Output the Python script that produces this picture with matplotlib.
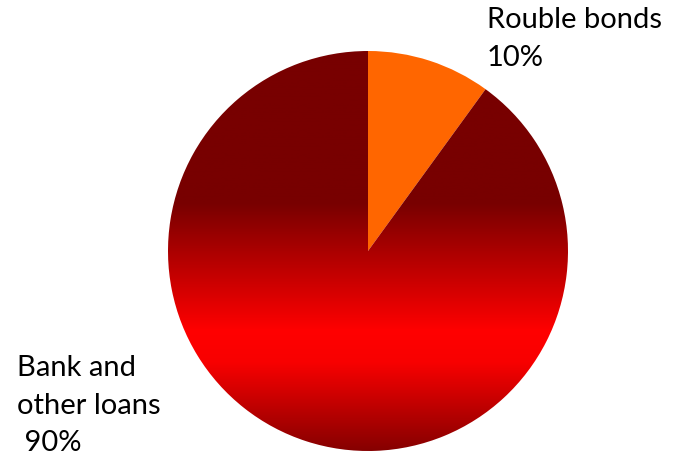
import matplotlib
matplotlib.use("Agg")
import matplotlib.pyplot as plt
import numpy as np
from matplotlib.colors import LinearSegmentedColormap

categories = ["Rouble bonds", "Bank and\nother loans"]
shares = [10, 90]
slice_colors = ["#FF6600", "#780000"]

plt.rcParams['font.family'] = ['Lato', 'DejaVu Sans']

W, H = 682, 456
fig = plt.figure(figsize=(W / 100, H / 100), dpi=100)
ax = fig.add_axes([0, 0, 1, 1])

cx, cy, r = 368, H - 252, 200
wedges, _ = ax.pie(shares, colors=slice_colors, startangle=90, counterclock=False,
                   center=(cx, cy), radius=r, frame=True,
                   wedgeprops=dict(linewidth=0))
ax.set_xlim(0, W)
ax.set_ylim(0, H)
ax.set_aspect('equal')
ax.axis('off')

# gradient fill for the big slice
cmap = LinearSegmentedColormap.from_list(
    "g", [(0.0, "#780000"), (0.38, "#780000"), (0.70, "#FF0000"),
          (0.78, "#F80000"), (1.0, "#860000")])
grad = np.linspace(0, 1, 512).reshape(-1, 1)
big = wedges[1]
im = ax.imshow(grad, cmap=cmap, aspect='auto',
               extent=(cx - r, cx + r, cy - r, cy + r), origin='upper', zorder=2)
im.set_clip_path(big)
big.set_facecolor('none')

ax.text(487, H - 7, f"{categories[0]}\n{shares[0]}%", fontsize=21, va='top', ha='left',
        linespacing=1.55, color='black')
ax.text(17, H - 355, f"{categories[1]}\n {shares[1]}%", fontsize=21, va='top', ha='left',
        linespacing=1.55, color='black')

fig.savefig("out.png", dpi=100)
